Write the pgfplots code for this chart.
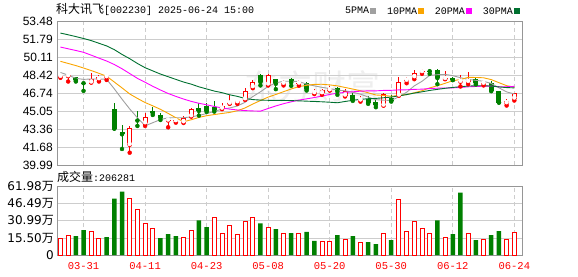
\documentclass[border=0pt]{standalone}
\usepackage{pgfplots}
\pgfplotsset{compat=1.18}
\usepackage{pgfplotstable}
\usepackage{fontspec}
\setmainfont{Liberation Sans}
\setmonofont{Liberation Mono}
\newfontfamily\cjk{Noto Sans CJK SC}
\newfontfamily\dejavu{DejaVu Sans}
\definecolor{kred}{RGB}{255,0,0}
\definecolor{kgreen}{RGB}{0,128,0}
\definecolor{ma5}{RGB}{160,160,160}
\definecolor{ma10}{RGB}{250,165,0}
\definecolor{ma20}{RGB}{255,0,255}
\definecolor{ma30}{RGB}{0,112,48}
\definecolor{gridc}{RGB}{205,205,205}
\definecolor{borderc}{RGB}{150,150,150}

\pgfplotstableread{
x o h l c
0 48.30 48.42 48.20 48.38
1 48.35 48.57 47.85 48.42
4 47.76 48.64 47.76 48.07
5 48.07 48.47 47.85 48.32
6 48.26 48.42 48.00 48.32
9 41.88 43.67 41.15 43.45
11 43.92 44.93 43.67 44.49
14 44.18 44.28 43.54 44.26
15 44.12 44.35 43.98 44.20
16 44.02 44.60 43.95 44.45
17 44.58 45.35 44.55 45.30
21 45.30 45.81 45.25 45.56
22 45.78 46.59 45.75 45.87
23 45.90 46.10 45.75 45.98
24 46.18 47.22 46.12 46.91
25 47.32 47.95 47.22 47.85
27 47.57 48.54 47.48 48.42
29 47.65 47.98 47.48 47.73
31 47.66 48.00 47.45 47.74
33 46.76 47.13 46.67 46.85
34 46.75 47.16 46.60 47.03
35 47.03 47.38 47.00 47.22
37 46.53 47.16 46.44 46.91
39 46.07 46.44 45.96 46.15
42 45.59 46.75 45.59 46.66
44 46.53 48.26 46.53 47.85
45 47.93 48.26 47.69 48.01
46 48.26 48.89 48.07 48.64
47 48.74 49.00 48.57 48.82
50 48.09 48.86 48.07 48.17
52 47.83 48.48 47.38 47.91
53 47.82 48.79 47.60 48.01
55 47.65 47.91 47.48 47.73
58 45.81 46.22 45.59 46.06
59 46.25 46.75 46.06 46.75
}\uptab

\pgfplotstableread{
x o h l c
2 48.32 48.32 47.85 47.95
3 47.75 47.85 46.97 47.69
7 45.24 45.81 43.42 43.42
8 43.10 43.76 41.50 42.88
10 44.27 45.08 43.67 44.17
12 45.12 45.43 44.70 44.86
13 44.67 44.86 44.23 44.42
18 45.37 45.81 44.64 45.08
19 45.56 45.87 44.99 45.12
20 45.43 46.03 45.02 45.18
26 48.42 48.54 47.48 47.79
28 48.07 48.10 47.13 47.63
30 48.10 48.16 47.45 47.76
32 47.73 47.85 47.00 47.13
36 47.22 47.30 46.60 46.91
38 46.59 46.81 46.03 46.12
40 46.22 46.44 45.75 45.87
41 45.90 46.12 45.43 45.65
43 46.34 46.59 45.96 46.03
48 48.88 49.04 48.57 48.82
49 48.89 49.01 47.60 48.17
51 48.20 48.30 47.98 48.00
54 48.07 48.23 47.57 47.70
56 47.69 47.91 46.94 47.00
57 47.00 47.00 45.87 45.87
}\downtab

\pgfplotstableread{
x m5 m10 m20 m30
0 48.70 49.75 51.09 52.41
1 48.45 49.55 50.93 52.25
2 48.15 49.35 50.77 52.08
3 48.05 49.12 50.60 51.90
4 48.09 48.88 50.33 51.70
5 48.09 48.62 50.05 51.45
6 48.06 48.35 49.78 51.20
7 47.16 47.80 49.45 50.85
8 46.19 47.25 49.05 50.40
9 45.27 46.68 48.60 50.00
10 44.44 46.26 48.15 49.55
11 43.68 45.87 47.78 49.15
12 43.97 45.56 47.40 48.85
13 44.27 45.23 47.05 48.55
14 44.43 44.85 46.72 48.30
15 44.44 44.44 46.45 48.05
16 44.44 44.06 46.20 47.80
17 44.52 44.25 45.98 47.60
18 44.66 44.47 45.80 47.35
19 44.83 44.63 45.66 47.15
20 45.03 44.74 45.50 46.95
21 45.25 44.84 45.36 46.80
22 45.36 44.94 45.25 46.60
23 45.54 45.10 45.17 46.45
24 45.90 45.36 45.11 46.25
25 46.43 45.73 45.08 46.15
26 46.88 46.06 45.06 46.10
27 47.39 46.38 45.31 46.08
28 47.72 46.63 45.55 46.07
29 47.88 46.89 45.76 46.07
30 47.87 47.15 45.94 46.05
31 47.85 47.37 46.10 46.03
32 47.60 47.49 46.22 46.00
33 47.44 47.58 46.34 45.97
34 47.30 47.59 46.48 45.94
35 47.19 47.53 46.63 45.90
36 47.03 47.44 46.75 45.85
37 46.98 47.29 46.83 45.97
38 46.84 47.14 46.88 46.08
39 46.66 46.98 46.94 46.17
40 46.39 46.79 46.97 46.23
41 46.14 46.58 46.97 46.26
42 46.09 46.54 47.01 46.32
43 46.07 46.46 47.02 46.38
44 46.41 46.54 47.06 46.50
45 46.84 46.62 47.07 46.62
46 47.44 46.79 47.11 46.76
47 47.87 46.98 47.13 46.88
48 48.43 47.25 47.19 47.01
49 48.49 47.45 47.22 47.11
50 48.52 47.68 47.24 47.21
51 48.40 47.92 47.25 47.29
52 48.21 48.04 47.29 47.36
53 48.05 48.24 47.35 47.42
54 47.96 48.23 47.38 47.45
55 47.87 48.20 47.41 47.45
56 47.67 48.03 47.41 47.42
57 47.26 47.74 47.36 47.34
58 46.87 47.46 47.36 47.28
59 46.68 47.32 47.39 47.25
}\matab

\pgfplotstableread{
x v
0 14.97
1 17.7
4 21.6
5 15.0
9 50.9
10 41.0
11 28.4
12 24.0
16 15.9
17 22.2
20 33.8
21 19.5
22 26.6
23 18.6
24 30.2
25 33.8
27 25.2
29 19.8
31 19.8
34 12.6
35 12.6
37 14.4
39 11.7
42 19.8
44 50.0
45 21.6
46 30.2
47 24.0
48 19.8
50 15.9
53 19.8
55 14.1
58 14.1
59 20.63
}\volred

\pgfplotstableread{
x v
2 17.1
3 22.5
6 16.2
7 51.2
8 57.5
13 15.3
14 18.9
15 17.1
18 31.4
19 25.2
26 28.7
28 23.4
30 19.8
32 21.0
33 12.9
36 18.0
38 17.1
40 11.7
41 9.9
43 13.5
49 31.4
51 18.9
52 56.6
54 13.5
56 18.0
57 21.6
}\volgreen

\pgfplotsset{
  kbase/.style={
    scale only axis, width=465pt,
    xmin=-0.45, xmax=60,
    axis line style={draw=borderc, line width=0.9pt},
    xtick={3,11,19,27,35,43,51,59},
    xmajorgrids, ymajorgrids,
    major x grid style={gridc, line width=0.8pt, dash pattern=on 4pt off 3pt},
    major y grid style={gridc, line width=0.8pt},
    major tick length=0pt,
    clip=true,
  },
  wick/.style={only marks, mark=none, forget plot,
    error bars/.cd, y dir=plus, y explicit, error mark=none,
    error bar style={#1, line width=1pt}},
  body/.style 2 args={only marks, mark=none, forget plot,
    error bars/.cd, y dir=plus, y explicit, error mark=none,
    error bar style={#1, line width=#2}},
}

\begin{document}
\begin{tikzpicture}[x=1pt,y=1pt]
\path[use as bounding box] (0,0) rectangle (578,276);

% watermark
\node[text=gray!13, font=\cjk\fontsize{34}{34}\selectfont, inner sep=0pt] at (312,190) {东方财富};

% title
\node[anchor=west, inner sep=0pt] at (56,267) {{\cjk\fontsize{12}{12}\selectfont 科大讯飞}{\ttfamily\fontsize{10}{10}\selectfont[002230] 2025-06-24 15:00}};

% main price axis
\begin{axis}[kbase, at={(57pt,111pt)}, anchor=south west, height=143.3pt,
  ymin=39.99, ymax=53.48,
  ytick={39.99,41.676,43.363,45.049,46.735,48.421,50.108,51.794,53.48},
  yticklabels={39.99,41.68,43.36,45.05,46.74,48.42,50.11,51.79,53.48},
  xticklabels={},
  yticklabel style={font=\fontsize{12}{12}\selectfont, inner sep=0pt, xshift=-4pt},
  legend plot pos=right,
  legend columns=4,
  legend style={at={(1,1)}, anchor=south east, xshift=-2pt, yshift=5pt,
    draw=none, fill=none, inner sep=0pt,
    font=\ttfamily\fontsize{10}{10}\selectfont,
    nodes={inner sep=1pt},
    /tikz/every even column/.append style={column sep=10pt}},
]
% wicks
\addplot[kred, wick=kred] table[x=x, y=l, y error expr={\thisrow{h}-\thisrow{l}}] {\uptab};
\addplot[kgreen, wick=kgreen] table[x=x, y=l, y error expr={\thisrow{h}-\thisrow{l}}] {\downtab};
% bodies
\addplot[kgreen, body={kgreen}{5pt}] table[x=x, y=c, y error expr={\thisrow{o}-\thisrow{c}}] {\downtab};
\addplot[kred, body={kred}{5pt}] table[x=x, y=o, y error expr={max(\thisrow{c}-\thisrow{o},0.09)}] {\uptab};
\addplot[white, body={white}{3pt}] table[x=x, y expr={\thisrow{o}+0.094}, y error expr={max(\thisrow{c}-\thisrow{o}-0.188,0)}] {\uptab};
% moving averages
\addplot[ma5, line width=0.9pt, mark=none,
  legend image code/.code={\fill[ma5] (0pt,-2.5pt) rectangle (5pt,2.5pt);}] table[x=x, y=m5] {\matab};
\addlegendentry{5PMA}
\addplot[ma10, line width=0.9pt, mark=none,
  legend image code/.code={\fill[ma10] (0pt,-2.5pt) rectangle (5pt,2.5pt);}] table[x=x, y=m10] {\matab};
\addlegendentry{10PMA}
\addplot[ma20, line width=0.9pt, mark=none,
  legend image code/.code={\fill[ma20] (0pt,-2.5pt) rectangle (5pt,2.5pt);}] table[x=x, y=m20] {\matab};
\addlegendentry{20PMA}
\addplot[ma30, line width=0.9pt, mark=none,
  legend image code/.code={\fill[ma30] (0pt,-2.5pt) rectangle (5pt,2.5pt);}] table[x=x, y=m30] {\matab};
\addlegendentry{30PMA}
\end{axis}

% volume label
\node[anchor=west, inner sep=0pt] at (57,99) {{\cjk\fontsize{12}{12}\selectfont 成交量}{\ttfamily\fontsize{10}{10}\selectfont:206281}};

% volume axis
\begin{axis}[kbase, at={(57pt,21pt)}, anchor=south west, height=68.3pt,
  ymin=0, ymax=61.98,
  ytick={0,15.50,30.99,46.49,61.98},
  yticklabels={0,15.50{\cjk 万},30.99{\cjk 万},46.49{\cjk 万},61.98{\cjk 万}},
  yticklabel style={font=\dejavu\fontsize{12}{12}\selectfont, inner sep=0pt, xshift=-3pt},
  xticklabels={03-31,04-11,04-23,05-08,05-20,05-30,06-12,06-24},
  xticklabel style={text=kred, font=\ttfamily\fontsize{10.5}{10.5}\selectfont, inner sep=0pt, yshift=-7pt},
]
\addplot[ybar, bar width=4pt, bar shift=0pt, draw=kred, fill=white, line width=0.9pt] table[x=x, y=v] {\volred};
\addplot[ybar, bar width=4.5pt, bar shift=0pt, draw=none, fill=kgreen] table[x=x, y=v] {\volgreen};
\end{axis}
\end{tikzpicture}
\end{document}
